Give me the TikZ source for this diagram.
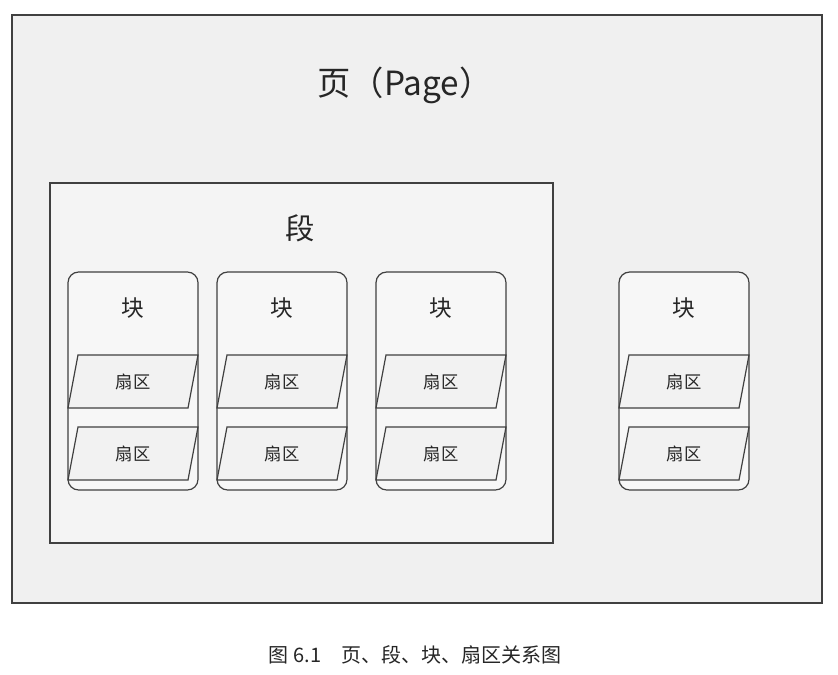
\documentclass[tikz,border=0pt]{standalone}
\usepackage{fontspec}
\newfontfamily\cjk{Noto Sans CJK SC}
\begin{document}
\begin{tikzpicture}[x=0.75pt,y=-0.75pt,
  boxline/.style={draw=black!75,line width=0.9pt},
  blockbox/.style={boxline,rounded corners=8pt,fill=gray!6},
  sector/.style={boxline,fill=gray!10},
  lbl/.style={font=\cjk\fontsize{#1}{#1}\selectfont,text=black!85}]
\useasboundingbox (0,0) rectangle (838,674);
\fill[white] (0,0) rectangle (838,674);
\draw[boxline,fill=gray!12] (12,15) rectangle (822,603);
\node[lbl=25] (page) at (405,85) {页（Page）};
\draw[boxline,fill=gray!9] (50,183) rectangle (553,543);
\node[lbl=22] (seg) at (300,228) {段};
\foreach \x/\n in {68/a,217/b,376/c,619/d}{
  \draw[blockbox] (\x,272) rectangle ++(130,218);
  \node[lbl=17] (blk\n) at (\x+65,308) {块};
  \foreach \y/\m in {355/1,427/2}{
    \draw[sector] (\x+10,\y) -- (\x+130,\y) -- (\x+120,\y+53) -- (\x,\y+53) -- cycle;
    \node[lbl=13] (sec\n\m) at (\x+65,\y+26.5) {扇区};
  }
}
\node[lbl=15] (cap) at (415,655) {图 6.1\quad 页、段、块、扇区关系图};
\end{tikzpicture}
\end{document}
